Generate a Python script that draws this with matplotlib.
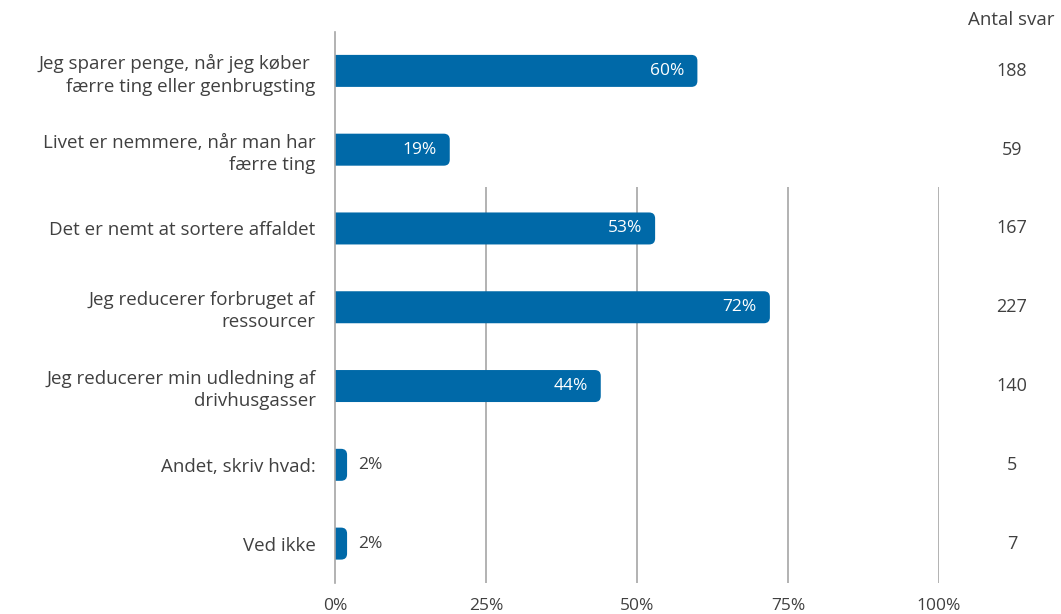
import matplotlib
matplotlib.use("Agg")
import matplotlib.pyplot as plt
from matplotlib.patches import FancyBboxPatch

categories = [
    "Jeg sparer penge, når jeg køber \nfærre ting eller genbrugsting",
    "Livet er nemmere, når man har\nfærre ting",
    "Det er nemt at sortere affaldet",
    "Jeg reducerer forbruget af\nressourcer",
    "Jeg reducerer min udledning af\ndrivhusgasser",
    "Andet, skriv hvad:",
    "Ved ikke",
]
percent = [60, 19, 53, 72, 44, 2, 2]
counts = [188, 59, 167, 227, 140, 5, 7]
xticks = [0, 25, 50, 75, 100]
xtick_labels = ["0%", "25%", "50%", "75%", "100%"]
count_header = "Antal svar"

BAR_COLOR = "#0069a8"
TEXT_COLOR = "#404040"
GRID_COLOR = "#a6a6a6"
FONT = "Open Sans"

W, H = 1061, 614
fig = plt.figure(figsize=(W / 100, H / 100), dpi=100)
left_px, right_px, top_px, bot_px = 335, 939, 31.5, 583
ax = fig.add_axes([left_px / W, 1 - bot_px / H, (right_px - left_px) / W, (bot_px - top_px) / H])
ax.set_xlim(0, 100)
ax.set_ylim(len(categories) - 0.5, -0.5)

for s in ["top", "right", "bottom"]:
    ax.spines[s].set_visible(False)
ax.spines["left"].set_color(GRID_COLOR)
ax.spines["left"].set_linewidth(1.2)

# grid lines (only in the lower part, as in the reference)
ax.vlines(xticks[1:], 1.48, len(categories) - 0.5, colors=GRID_COLOR, linewidth=1.2, zorder=0)

# rounded bars
px_per_x = (right_px - left_px) / 100.0
px_per_y = (bot_px - top_px) / len(categories)
r_px = 6
r_x = r_px / px_per_x
aspect = px_per_x / px_per_y
bar_h = 32 / px_per_y
for i, v in enumerate(percent):
    p = FancyBboxPatch((-r_x, i - bar_h / 2), v + r_x, bar_h,
                       boxstyle=f"round,pad=0,rounding_size={r_x}",
                       mutation_aspect=aspect,
                       facecolor=BAR_COLOR, edgecolor="none", zorder=2)
    ax.add_patch(p)
    if v >= 10:
        ax.text(v - 13 / px_per_x, i, f"{v}%", ha="right", va="center",
                color="white", fontsize=12.5, family=FONT, zorder=3)
    else:
        ax.text(v + 11 / px_per_x, i, f"{v}%", ha="left", va="center",
                color=TEXT_COLOR, fontsize=12.5, family=FONT, zorder=3)

# category labels
ax.set_yticks(range(len(categories)))
ax.set_yticklabels(categories, fontsize=13.5, family=FONT, color=TEXT_COLOR,
                   multialignment="right", linespacing=1.3)
ax.tick_params(axis="y", length=0, pad=14)

ax.set_xticks(xticks)
ax.set_xticklabels(xtick_labels, fontsize=12.5, family=FONT, color=TEXT_COLOR)
ax.tick_params(axis="x", length=0, pad=11)

# counts column
cx = (1012 - left_px) / px_per_x
for i, c in enumerate(counts):
    ax.text(cx, i, str(c), ha="center", va="center", fontsize=13,
            family=FONT, color=TEXT_COLOR, clip_on=False)
fig.text(1011 / W, 1 - 20 / H, count_header, ha="center", va="center",
         fontsize=13.5, family=FONT, color=TEXT_COLOR)

fig.savefig("out.png", dpi=100)
